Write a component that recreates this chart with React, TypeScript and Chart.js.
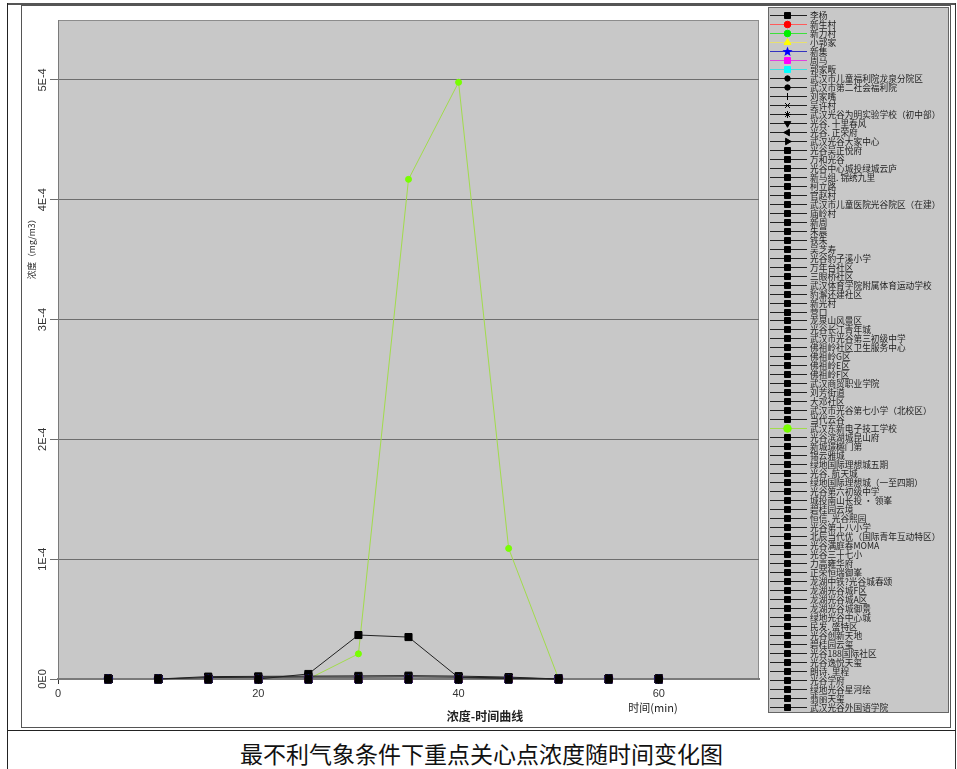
import React, { useEffect, useRef } from 'react';
import { Chart, registerables } from 'chart.js';
import { drawPoint } from 'chart.js/helpers';

Chart.register(...registerables);

// ---------------- data ----------------
const times = [5, 10, 15, 20, 25, 30, 35, 40, 45, 50, 55, 60];

const seriesNames = [
  '李杨', '新生村', '新力村', '小郭家', '新集', '周马', '郭家畈',
  '武汉市儿童福利院龙泉分院区', '武汉市第二社会福利院', '刘家嘴', '吴许村',
  '武汉光谷为明实验学校（初中部）', '光谷. 十里春风', '光谷. 正荣府', '武汉光谷大家中心',
  '光谷吴正悦府', '万和光谷', '光谷中心城投绿城云庐', '新马组. 锦绣九里', '柯立路', '官赵村',
  '武汉市儿童医院光谷院区（在建）', '庙岭村', '新周', '朱晨', '铁朱', '吴芝寿',
  '光谷豹子溪小学', '万年台社区', '三眼桥社区', '武汉体育学院附属体育运动学校',
  '豹澥还建社区', '新光村', '营口', '龙泉山风景区', '光谷长江青年城',
  '武汉市光谷第三初级中学', '佛祖岭社区卫生服务中心', '佛祖岭G区', '佛祖岭E区', '佛祖岭F区',
  '武汉商贸职业学院', '刘芳街道', '大邓社区', '武汉市光谷第七小学（北校区）', '当代云谷',
  '武汉东新电子技工学校', '光谷滨湖城昆山府', '新城璟樾门第', '锦云雅城', '绿地国际理想城五期',
  '光谷. 航天城', '绿地国际理想城（一至四期）', '光谷第六初级中学', '城投南山长投 · 领峯',
  '碧桂园云境', '恒信. 光谷熙园', '光谷第十八小学', '北辰当代优（国际青年互动特区）',
  '光谷满庭春MOMA', '光谷三十七小', '力高雍华府', '正荣恒瑞御峯', '龙湖中铁?光谷城春颂',
  '龙湖光谷城F区', '龙湖光谷城A区', '龙湖光谷城御景', '绿地光谷中心城', '民发. 盛特区',
  '光谷创新天地', '碧桂园云玺', '光谷188国际社区', '光谷逸悦天玺', '朗诗. 里程', '光谷学府',
  '绿地光谷星河绘', '翡丽天玺', '武汉光谷外国语学院',
];

// 武汉东新电子技工学校 (green peak)
const peakSeries = [0, 0, 0, 0, 0, 2.1e-5, 4.17e-4, 4.98e-4, 1.09e-4, 0, 0, 0];
// small black bump
const bumpSeries = [0, 0, 0, 0, 4.2e-6, 3.67e-5, 3.5e-5, 1.2e-6, 0.4e-6, 0, 0, 0];
// near-zero series forming the thick baseline
const lowSeriesA = [0, 0, 1.2e-6, 1.4e-6, 1.6e-6, 1.6e-6, 1.8e-6, 1.5e-6, 1.0e-6, 0, 0, 0];
const lowSeriesB = [0, 0, 2.0e-6, 2.2e-6, 2.4e-6, 2.6e-6, 2.8e-6, 2.4e-6, 1.6e-6, 0, 0, 0];
const zeroSeries = [0, 0, 0, 0, 0, 0, 0, 0, 0, 0, 0, 0];

const PEAK = '武汉东新电子技工学校';
const BUMP = '光谷吴正悦府';
const LOW_A = '万和光谷';
const LOW_B = '光谷中心城投绿城云庐';

const valuesFor = (name: string) =>
  name === PEAK ? peakSeries : name === BUMP ? bumpSeries : name === LOW_A ? lowSeriesA : name === LOW_B ? lowSeriesB : zeroSeries;

// ---------------- styles ----------------
function makeStar(color: string) {
  const c = document.createElement('canvas');
  c.width = 11; c.height = 11;
  const g = c.getContext('2d')!;
  g.fillStyle = color;
  g.beginPath();
  for (let k = 0; k < 10; k++) {
    const r = k % 2 === 0 ? 5.3 : 2.2;
    const a = -Math.PI / 2 + (k * Math.PI) / 5;
    const px = 5.5 + r * Math.cos(a), py = 5.8 + r * Math.sin(a);
    if (k === 0) g.moveTo(px, py); else g.lineTo(px, py);
  }
  g.closePath();
  g.fill();
  return c;
}

type Sty = { line: string; marker: string; style: any; rot: number; r: number; lr: number };
function styleFor(i: number, name: string, star: HTMLCanvasElement): Sty {
  const black = '#000';
  const gl = '#222';
  switch (i) {
    case 0: return { line: gl, marker: black, style: 'rect', rot: 0, r: 5, lr: 4.2 };
    case 1: return { line: '#ff5a5a', marker: '#ff0000', style: 'circle', rot: 0, r: 3.5, lr: 3.3 };
    case 2: return { line: '#3ce03c', marker: '#00f000', style: 'circle', rot: 0, r: 3.5, lr: 3.3 };
    case 3: return { line: '#e8e070', marker: '#ffff00', style: 'triangle', rot: 0, r: 4, lr: 4 };
    case 4: return { line: '#3434c0', marker: '#0000ff', style: star, rot: 0, r: 4, lr: 4 };
    case 5: return { line: '#e040e0', marker: '#ff00ff', style: 'rect', rot: 0, r: 5, lr: 4.2 };
    case 6: return { line: '#40e0e0', marker: '#00ffff', style: 'rect', rot: 0, r: 5, lr: 4.2 };
    case 7: case 8: return { line: gl, marker: black, style: 'circle', rot: 0, r: 3, lr: 2.7 };
    case 9: return { line: gl, marker: black, style: 'line', rot: 90, r: 4, lr: 3.5 };
    case 10: return { line: gl, marker: black, style: 'crossRot', rot: 0, r: 4, lr: 3.5 };
    case 11: return { line: gl, marker: black, style: 'star', rot: 0, r: 4, lr: 3.5 };
    case 12: return { line: gl, marker: black, style: 'triangle', rot: 180, r: 4, lr: 3.8 };
    case 13: return { line: gl, marker: black, style: 'triangle', rot: -90, r: 4, lr: 3.8 };
    case 14: return { line: gl, marker: black, style: 'triangle', rot: 90, r: 4, lr: 3.8 };
    default:
      if (name === PEAK) return { line: '#a2dc4c', marker: '#78ff00', style: 'circle', rot: 0, r: 3, lr: 3.8 };
      return { line: gl, marker: black, style: 'rect', rot: 0, r: 5, lr: 4.2 };
  }
}

const fmtSci = (v: number) => {
  if (Math.abs(v) < 1e-12) return '0E0';
  const e = Math.floor(Math.log10(Math.abs(v)) + 1e-9);
  const m = Math.round((v / Math.pow(10, e)) * 100) / 100;
  return `${m}E${e}`;
};

const CW = 930, CH = 723;

export default function App() {
  const ref = useRef<HTMLCanvasElement | null>(null);

  useEffect(() => {
    const canvas = ref.current!;
    const star = makeStar('#0000ff');
    const styles = seriesNames.map((n, i) => styleFor(i, n, star));

    const datasets = seriesNames.map((name, i) => {
      const s = styles[i];
      const vals = valuesFor(name);
      return {
        label: name,
        data: times.map((t, k) => ({ x: t, y: vals[k] })),
        borderColor: s.line,
        borderWidth: 1,
        pointStyle: s.style,
        pointRotation: s.rot,
        pointRadius: s.r,
        pointBackgroundColor: s.marker,
        pointBorderColor: s.marker,
        pointBorderWidth: 1,
        tension: 0,
        clip: false as any,
        segment: {
          borderColor: (c: any) => (c.p0.parsed.y === 0 && c.p1.parsed.y === 0 ? 'rgba(0,0,0,0)' : undefined),
        },
      };
    });

    const decor = {
      id: 'decor',
      beforeDraw(chart: any) {
        const { ctx, chartArea: a } = chart;
        ctx.save();
        ctx.fillStyle = '#fff';
        ctx.fillRect(0, 0, CW, CH);
        ctx.fillStyle = '#c8c8c8';
        ctx.fillRect(a.left, a.top, a.right - a.left, a.bottom - a.top);
        ctx.strokeStyle = '#8c8c8c';
        ctx.lineWidth = 1;
        ctx.strokeRect(a.left + 0.5, a.top + 0.5, a.right - a.left - 1, a.bottom - a.top);
        ctx.restore();
      },
      afterDraw(chart: any) {
        const ctx = chart.ctx;
        ctx.save();
        // legend box
        const lx = 747, ly = 2, lw = 181, lh = 706;
        ctx.fillStyle = '#c8c8c8';
        ctx.fillRect(lx, ly, lw, lh);
        ctx.strokeStyle = '#666';
        ctx.lineWidth = 1;
        ctx.strokeRect(lx + 0.5, ly + 0.5, lw - 1, lh - 1);
        chart.data.datasets.forEach((ds: any, i: number) => {
          const s = styles[i];
          const y = Math.round(10 + i * 8.985) + 0.5;
          ctx.strokeStyle = s.line;
          ctx.lineWidth = 1;
          ctx.beginPath();
          ctx.moveTo(749, y);
          ctx.lineTo(786, y);
          ctx.stroke();
          ctx.fillStyle = s.marker;
          ctx.strokeStyle = s.marker;
          drawPoint(ctx, { pointStyle: s.style, rotation: s.rot, radius: s.lr, borderWidth: 1 } as any, 766.5, y);
          ctx.fillStyle = '#222';
          ctx.font = '8.7px "Noto Sans CJK SC"';
          ctx.textAlign = 'left';
          ctx.textBaseline = 'middle';
          ctx.fillText(ds.label, 789, y + 0.5);
        });
        // axis titles
        ctx.fillStyle = '#222';
        ctx.font = '8.7px "Noto Sans CJK SC"';
        ctx.textAlign = 'center';
        ctx.textBaseline = 'middle';
        ctx.save();
        ctx.translate(11, 242);
        ctx.rotate(-Math.PI / 2);
        ctx.fillText('浓度（mg/m3）', 0, 0);
        ctx.restore();
        ctx.font = '11px "Noto Sans CJK SC"';
        ctx.fillText('时间(min)', 632, 703);
        ctx.font = 'bold 12px "Noto Sans CJK SC"';
        ctx.fillText('浓度-时间曲线', 464, 711);
        // picture frame
        ctx.strokeStyle = '#555';
        ctx.lineWidth = 1;
        ctx.strokeRect(0.5, 0.5, CW - 1, CH - 1);
        ctx.restore();
      },
    };

    const chart = new Chart(canvas, {
      type: 'line',
      data: { datasets: datasets as any },
      options: {
        animation: false,
        responsive: false,
        maintainAspectRatio: false,
        events: [],
        layout: { padding: { left: 0, top: 15, right: CW - 738, bottom: 29 } },
        plugins: { legend: { display: false }, title: { display: false }, tooltip: { enabled: false } },
        scales: {
          x: {
            type: 'linear',
            min: 0,
            max: 70,
            afterFit: (s: any) => { s.height = 20; },
            ticks: {
              stepSize: 20,
              includeBounds: false,
              color: '#333',
              padding: 3,
              maxRotation: 0,
              font: { family: '"Liberation Sans", Arial', size: 11 },
            },
            grid: { drawOnChartArea: false, drawTicks: true, tickLength: 5, color: '#333' },
            border: { display: true, color: '#7a7a7a', width: 2 },
          },
          y: {
            type: 'linear',
            min: 0,
            max: 5.5e-4,
            afterFit: (s: any) => { s.width = 37; },
            ticks: {
              stepSize: 1e-4,
              includeBounds: false,
              minRotation: 90,
              maxRotation: 90,
              crossAlign: 'center',
              padding: -5,
              color: '#333',
              font: { family: '"Liberation Sans", Arial', size: 11 },
              callback: (v: any) => fmtSci(Number(v)),
            },
            grid: { drawOnChartArea: true, drawTicks: true, tickLength: 8, color: '#6e6e6e', lineWidth: 1 },
            border: { display: true, color: '#7a7a7a', width: 1 },
          },
        },
      },
      plugins: [decor],
    });
    return () => chart.destroy();
  }, []);

  return (
    <div style={{ position: 'fixed', left: 0, top: 0, width: 957, height: 769, background: '#fff', overflow: 'hidden' }}>
      <div style={{ position: 'absolute', left: 7, top: 3, width: 949, height: 2, background: '#555' }} />
      <div style={{ position: 'absolute', left: 7, top: 3, width: 1, height: 766, background: '#222' }} />
      <div style={{ position: 'absolute', left: 955, top: 3, width: 1, height: 766, background: '#333' }} />
      <div style={{ position: 'absolute', left: 7, top: 730, width: 949, height: 1, background: '#222' }} />
      <canvas ref={ref} width={CW} height={CH} style={{ position: 'absolute', left: 21, top: 5, width: CW, height: CH }} />
      <div
        style={{
          position: 'absolute', left: 7, top: 741, width: 949, textAlign: 'center',
          fontFamily: '"Noto Sans CJK SC"', fontSize: 23, lineHeight: '24px', color: '#111',
        }}
      >
        最不利气象条件下重点关心点浓度随时间变化图
      </div>
    </div>
  );
}
